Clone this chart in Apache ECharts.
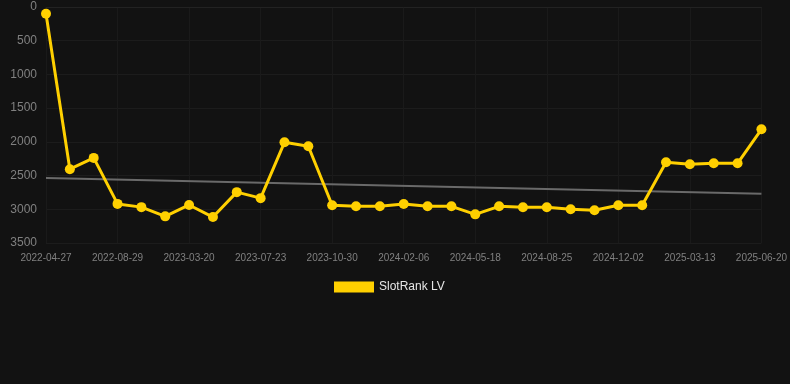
<!DOCTYPE html>
<html><head><meta charset="utf-8">
<script src="https://cdn.jsdelivr.net/npm/echarts@6/dist/echarts.min.js"></script>
<style>html,body{margin:0;padding:0;background:#121212;}#c{width:790px;height:384px;}</style>
</head><body><div id="c"></div>
<script>
const categories = ["2022-04-27","2022-06-07","2022-07-18","2022-08-29","2022-11-05","2023-01-12","2023-03-20","2023-05-01","2023-06-12","2023-07-23","2023-08-25","2023-09-27","2023-10-30","2023-12-02","2024-01-04","2024-02-06","2024-03-11","2024-04-14","2024-05-18","2024-06-20","2024-07-23","2024-08-25","2024-09-27","2024-10-30","2024-12-02","2025-01-05","2025-02-08","2025-03-13","2025-04-15","2025-05-18","2025-06-20"];
const rankValues = [100,2405,2238,2920,2968,3105,2936,3115,2746,2835,2007,2066,2940,2956,2956,2921,2956,2956,3075,2956,2971,2971,3000,3015,2941,2941,2303,2333,2318,2318,1814];
const trendEnds = [2536,2768];
const yTicks = {min:0,max:3500,interval:500};

const trendData = categories.map((c,i)=> i===0 ? trendEnds[0] : (i===categories.length-1 ? trendEnds[1] : null));

const chart = echarts.init(document.getElementById('c'), null, {renderer:'canvas'});
chart.setOption({
  backgroundColor:'#121212',
  animation:false,
  grid:{left:46,right:28,top:7,bottom:141,containLabel:false},
  legend:{
    data:[{name:'SlotRank LV',icon:'rect'}],
    top:276,left:329,
    itemWidth:40,itemHeight:11,itemGap:6,
    textStyle:{color:'#e6e6e6',fontSize:12,fontFamily:'Liberation Sans, Arial, sans-serif'}
  },
  xAxis:{
    type:'category',data:categories,boundaryGap:false,
    axisLine:{show:true,lineStyle:{color:'#222222'}},
    axisTick:{show:false},
    axisLabel:{interval:2,color:'#808080',fontSize:10,margin:10,fontFamily:'Liberation Sans, Arial, sans-serif'},
    splitLine:{show:true,interval:2,lineStyle:{color:'#1a1a1a',width:1}}
  },
  yAxis:{
    type:'value',inverse:true,min:yTicks.min,max:yTicks.max,interval:yTicks.interval,
    axisLine:{show:false},axisTick:{show:false},
    axisLabel:{color:'#808080',fontSize:12,margin:9,formatter:v=>String(v),fontFamily:'Liberation Sans, Arial, sans-serif'},
    splitLine:{show:true,lineStyle:{color:'#1c1c1c',width:1}}
  },
  series:[
    {name:'Trend',type:'line',data:trendData,connectNulls:true,symbol:'none',
     lineStyle:{color:'#6a6a6a',width:2},itemStyle:{color:'#6a6a6a'},z:1},
    {name:'SlotRank LV',type:'line',data:rankValues,symbol:'circle',symbolSize:10,
     lineStyle:{color:'#FFD000',width:3},itemStyle:{color:'#FFD000'},z:2}
  ]
});
</script></body></html>
